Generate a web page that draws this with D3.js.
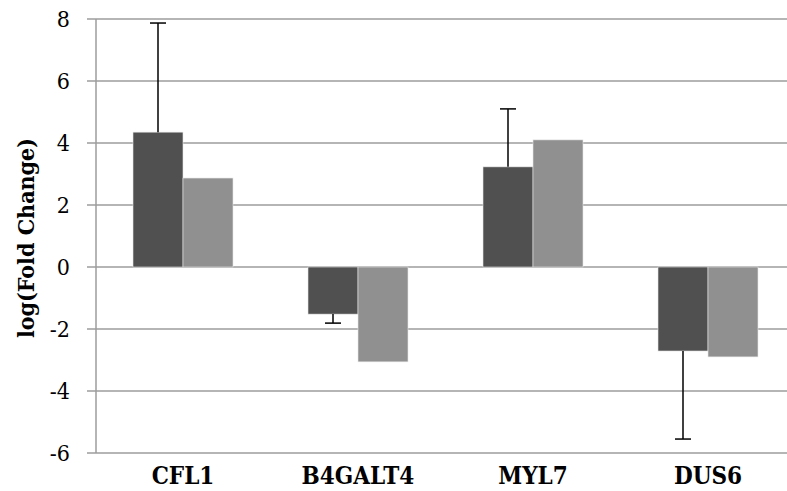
<!DOCTYPE html>
<html>
<head>
<meta charset="utf-8">
<script src="https://cdn.jsdelivr.net/npm/d3@7"></script>
<style>
  body { margin: 0; background: #fff; }
  svg { display: block; }
  text { font-family: "DejaVu Serif Condensed", "DejaVu Serif", serif; font-stretch: condensed; }
</style>
</head>
<body>
<svg id="chart" width="787" height="491"></svg>
<script>
var genes = ["CFL1", "B4GALT4", "MYL7", "DUS6"];
var seriesA = [4.35, -1.52, 3.23, -2.71];   // dark bars
var seriesB = [2.87, -3.06, 4.10, -2.90];   // light bars
var errA = [3.52, 0.29, 1.87, 2.84];        // one-sided error on dark bars
var yTicks = [-6, -4, -2, 0, 2, 4, 6, 8];

var svg = d3.select("#chart");

var y = d3.scaleLinear().domain([-6, 8]).range([453, 19]);
var x = d3.scaleBand().domain(genes).range([95.5, 795.5])
    .paddingInner(75 / 175).paddingOuter(37.5 / 175);
var sub = d3.scaleBand().domain(["a", "b"]).range([0, x.bandwidth()]);

// gridlines + tick marks
svg.append("g").selectAll("line").data(yTicks).enter().append("line")
    .attr("x1", 87).attr("x2", 787)
    .attr("y1", function(d) { return y(d); })
    .attr("y2", function(d) { return y(d); })
    .attr("stroke", "#9c9c9c")
    .attr("stroke-width", 1.5);

// vertical axis line
svg.append("line")
    .attr("x1", 96).attr("x2", 96)
    .attr("y1", y(8)).attr("y2", y(-6))
    .attr("stroke", "#9c9c9c")
    .attr("stroke-width", 1.5);

// tick labels
svg.append("g").selectAll("text").data(yTicks).enter().append("text")
    .attr("x", 70)
    .attr("y", function(d) { return y(d); })
    .attr("dy", "0.36em")
    .attr("text-anchor", "end")
    .attr("font-size", 23)
    .attr("fill", "#000")
    .text(function(d) { return d; });

function drawBars(vals, key, color) {
    svg.append("g").selectAll("rect").data(vals).enter().append("rect")
        .attr("x", function(d, i) { return x(genes[i]) + sub(key); })
        .attr("width", sub.bandwidth())
        .attr("y", function(d) { return Math.min(y(d), y(0)); })
        .attr("height", function(d) { return Math.abs(y(d) - y(0)); })
        .attr("fill", color)
        .attr("stroke", "#e6e6e6")
        .attr("stroke-width", 0.6);
}
drawBars(seriesA, "a", "#505050");
drawBars(seriesB, "b", "#909090");

// error bars on dark series
var eg = svg.append("g");
seriesA.forEach(function(v, i) {
    var cx = x(genes[i]) + sub("a") + sub.bandwidth() / 2;
    var end = v >= 0 ? v + errA[i] : v - errA[i];
    eg.append("line")
        .attr("x1", cx).attr("x2", cx)
        .attr("y1", y(v)).attr("y2", y(end))
        .attr("stroke", "#000").attr("stroke-width", 1.5);
    eg.append("line")
        .attr("x1", cx - 8).attr("x2", cx + 8)
        .attr("y1", y(end)).attr("y2", y(end))
        .attr("stroke", "#000").attr("stroke-width", 1.5);
});

// category labels
svg.append("g").selectAll("text").data(genes).enter().append("text")
    .attr("x", function(d) { return x(d) + x.bandwidth() / 2; })
    .attr("y", 484)
    .attr("text-anchor", "middle")
    .attr("font-weight", "bold")
    .attr("font-size", 24)
    .attr("fill", "#000")
    .text(function(d) { return d; });

// y axis title
svg.append("text")
    .attr("transform", "translate(34,238) rotate(-90)")
    .attr("text-anchor", "middle")
    .attr("font-weight", "bold")
    .attr("font-size", 23)
    .attr("fill", "#000")
    .text("log(Fold Change)");
</script>
</body>
</html>
